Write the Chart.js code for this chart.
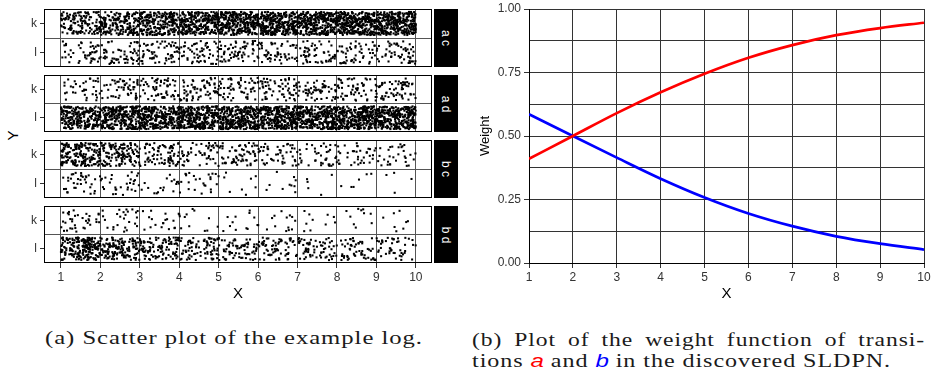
<!DOCTYPE html>
<html><head><meta charset="utf-8">
<script src="https://cdn.jsdelivr.net/npm/chart.js@4.4.0/dist/chart.umd.min.js"></script>
<style>
html,body{margin:0;padding:0;background:#fff;width:933px;height:381px;overflow:hidden;position:relative;font-family:'Liberation Sans',Arial,sans-serif;}
canvas{position:absolute;}
.strip{position:absolute;background:#000;color:#fff;left:434px;width:24px;}
.strip span{position:absolute;left:50%;top:50%;transform:translate(-50%,-50%) rotate(90deg);font-size:12px;white-space:nowrap;}
.lbl{position:absolute;white-space:nowrap;color:#000;}
.cap{position:absolute;font-family:'Liberation Serif','DejaVu Serif',serif;font-size:18px;line-height:18px;letter-spacing:0.7px;white-space:nowrap;transform-origin:0 0;color:#1a1a1a;}
.cap i{font-family:'Liberation Sans',sans-serif;letter-spacing:0;}
</style></head><body>
<div class="lbl" id="ytitle" style="left:7px;top:127px;font-size:15px;transform:rotate(-90deg);">Y</div>
<div class="cap" id="capA" data-w="378" style="left:45px;top:329px;">(a) Scatter plot of the example log.</div>
<div class="cap" id="capB1" data-w="453" style="left:472px;top:331px;word-spacing:4px;">(b) Plot of the weight function of transi-</div>
<div class="cap" id="capB2" data-w="419" style="left:472px;top:352px;">tions <i style="color:#ff0000">a</i> and <i style="color:#0000ff">b</i> in the discovered SLDPN.</div>
<script>
// ---------- Data (a): number of log traces per unit X-interval ----------
const binStarts = [1, 2, 3, 4, 5, 6, 7, 8, 9];
const facetNames = ['a c', 'a d', 'b c', 'b d'];
const rowLabels = ['k', 'l'];
const acK = [130, 180, 230, 260, 280, 300, 300, 310, 310];
const acL = [45, 60, 60, 55, 60, 55, 55, 50, 55];
const adK = [35, 50, 60, 60, 55, 60, 55, 55, 60];
const adL = [230, 260, 280, 290, 300, 300, 300, 300, 300];
const bcK = [180, 130, 80, 50, 60, 45, 40, 35, 30];
const bcL = [35, 30, 18, 25, 8, 10, 5, 6, 4];
const bdK = [35, 25, 18, 12, 12, 14, 10, 10, 8];
const bdL = [200, 140, 100, 80, 70, 65, 65, 55, 45];
const facetCounts = [[acK, acL], [adK, adL], [bcK, bcL], [bdK, bdL]];
const xTicks = [1, 2, 3, 4, 5, 6, 7, 8, 9, 10];

// ---------- Data (b): weight functions ----------
const wX = [1, 2, 3, 4, 5, 6, 7, 8, 9, 10];
const weightA = [0.41, 0.50, 0.59, 0.672, 0.745, 0.808, 0.858, 0.897, 0.925, 0.946];
const weightB = [0.586, 0.50, 0.415, 0.332, 0.258, 0.195, 0.145, 0.105, 0.076, 0.053];
const yTicksB = [0, 0.125, 0.25, 0.375, 0.5, 0.625, 0.75, 0.875, 1];

Chart.defaults.font.family = "'Liberation Sans', Arial, sans-serif";

// deterministic jitter (layout only, like geom_jitter)
function mulberry32(a){return function(){a|=0;a=a+0x6D2B79F5|0;let t=Math.imul(a^a>>>15,1|a);t=t+Math.imul(t^t>>>7,61|t)^t;return((t^t>>>14)>>>0)/4294967296;}}

const facetTop = [9, 75, 140, 206];
const facetBottom = [67, 132, 198, 263];

const boxPlugin = {id:'box', afterDraw(chart){const a=chart.chartArea,c=chart.ctx;c.save();c.strokeStyle='#000';c.lineWidth=1;c.strokeRect(Math.round(a.left)+0.5,Math.round(a.top)+0.5,Math.round(a.right-a.left)-1,Math.round(a.bottom-a.top)-1);c.restore();}};
function noPad(s){ s.paddingTop = 0; s.paddingBottom = 0; s.paddingLeft = 0; s.paddingRight = 0; }

function facetChart(i){
  const top = facetTop[i], bot = facetBottom[i];
  const last = i === 3;
  const H = last ? (305 - (top - 3)) : (bot - top + 6);
  const cv = document.createElement('canvas');
  cv.width = 440; cv.height = H;
  cv.style.left = '0px'; cv.style.top = (top - 3) + 'px';
  cv.style.width = '440px'; cv.style.height = H + 'px';
  document.body.appendChild(cv);
  const rnd = mulberry32(1234 + i * 97);
  const pts = [];
  facetCounts[i].forEach((counts, r) => {
    const yc = r === 0 ? 2 : 1;
    counts.forEach((n, b) => {
      for (let k = 0; k < n; k++) {
        pts.push({x: binStarts[b] + rnd(), y: yc + (rnd() - 0.5) * 0.8});
      }
    });
  });
  new Chart(cv, {
    type: 'scatter',
    data: {datasets: [{data: pts, pointStyle: 'rect', pointRadius: 1.45, pointBackgroundColor: '#000', pointBorderWidth: 0, pointHoverRadius: 0}]},
    options: {
      responsive: false, animation: false, events: [],
      layout: {padding: {left: 0, right: 8, top: 3, bottom: last ? 0 : 3}},
      plugins: {legend: {display: false}, tooltip: {enabled: false}},
      scales: {
        x: {type: 'linear', min: 0.57, max: 10.41,
          afterBuildTicks: s => { s.ticks = xTicks.map(v => ({value: v})); },
          afterFit: s => { s.height = last ? 42 : 0; noPad(s); },
          grid: {color: '#555', lineWidth: 1, tickLength: last ? 5 : 0, tickColor: '#333'},
          border: {display: false},
          ticks: {display: last, color: '#333', font: {size: 12}, padding: 2, maxRotation: 0, autoSkip: false},
          title: {display: last, text: 'X', font: {size: 15}, color: '#000', padding: {top: 0, bottom: 2}}
        },
        y: {type: 'linear', min: 0.5, max: 2.5,
          afterBuildTicks: s => { s.ticks = [{value: 1}, {value: 1.5}, {value: 2}]; },
          afterFit: s => { s.width = 44; noPad(s); },
          grid: {color: c => (c.tick && c.tick.value === 1.5) ? '#555' : 'rgba(0,0,0,0)',
                 tickColor: c => (c.tick && c.tick.value === 1.5) ? 'rgba(0,0,0,0)' : '#333', tickLength: 4},
          border: {display: false},
          ticks: {callback: v => v === 2 ? rowLabels[0] : (v === 1 ? rowLabels[1] : ''), color: '#333', font: {size: 12}, padding: 3, autoSkip: false}
        }
      }
    },
    plugins: [boxPlugin]
  });
  const st = document.createElement('div');
  st.className = 'strip';
  st.style.top = top + 'px'; st.style.height = (bot - top) + 'px';
  st.innerHTML = '<span>' + facetNames[i] + '</span>';
  document.body.appendChild(st);
}
for (let i = 0; i < 4; i++) facetChart(i);

// ---------- Panel (b) ----------
const cvB = document.createElement('canvas');
cvB.width = 463; cvB.height = 305;
cvB.style.left = '470px'; cvB.style.top = '0px'; cvB.style.width = '463px'; cvB.style.height = '305px';
document.body.appendChild(cvB);
const isQuarter = v => Math.abs(v * 4 - Math.round(v * 4)) < 1e-6;
new Chart(cvB, {
  type: 'line',
  data: {datasets: [
    {data: wX.map((x, k) => ({x, y: weightA[k]})), borderColor: '#ff0000', borderWidth: 2.7, pointRadius: 0, cubicInterpolationMode: 'monotone', fill: false},
    {data: wX.map((x, k) => ({x, y: weightB[k]})), borderColor: '#0000ff', borderWidth: 2.7, pointRadius: 0, cubicInterpolationMode: 'monotone', fill: false}
  ]},
  options: {
    responsive: false, animation: false, events: [],
    layout: {padding: {left: 0, right: 9, top: 9, bottom: 0}},
    plugins: {legend: {display: false}, tooltip: {enabled: false}},
    scales: {
      x: {type: 'linear', min: 1, max: 10,
        afterBuildTicks: s => { s.ticks = xTicks.map(v => ({value: v})); },
        afterFit: s => { s.height = 42; noPad(s); },
        grid: {color: '#333', lineWidth: 1, tickLength: 5, tickColor: '#333'},
        border: {color: '#000', width: 1},
        ticks: {color: '#333', font: {size: 12}, padding: 2, maxRotation: 0, autoSkip: false},
        title: {display: true, text: 'X', font: {size: 15}, color: '#000', padding: {top: 0, bottom: 2}}
      },
      y: {type: 'linear', min: 0, max: 1,
        afterBuildTicks: s => { s.ticks = yTicksB.map(v => ({value: v})); },
        afterFit: s => { s.width = 59; noPad(s); },
        grid: {color: '#333', lineWidth: 1, tickLength: 5, tickColor: c => (c.tick && isQuarter(c.tick.value)) ? '#333' : 'rgba(0,0,0,0)'},
        border: {color: '#000', width: 1},
        ticks: {callback: v => isQuarter(v) ? v.toFixed(2) : '', color: '#333', font: {size: 12}, padding: 3, autoSkip: false},
        title: {display: true, text: 'Weight', font: {size: 13}, color: '#000', padding: {top: 8, bottom: 0}}
      }
    }
  }
});

// fit captions to reference widths
function fitCaps(){
  document.querySelectorAll('.cap').forEach(el => {
    el.style.transform = 'none';
    const w = el.getBoundingClientRect().width;
    const target = +el.dataset.w;
    el.style.transform = 'scaleX(' + (target / w) + ')';
  });
}
fitCaps();
if (document.fonts && document.fonts.ready) document.fonts.ready.then(fitCaps);
</script>
</body></html>
